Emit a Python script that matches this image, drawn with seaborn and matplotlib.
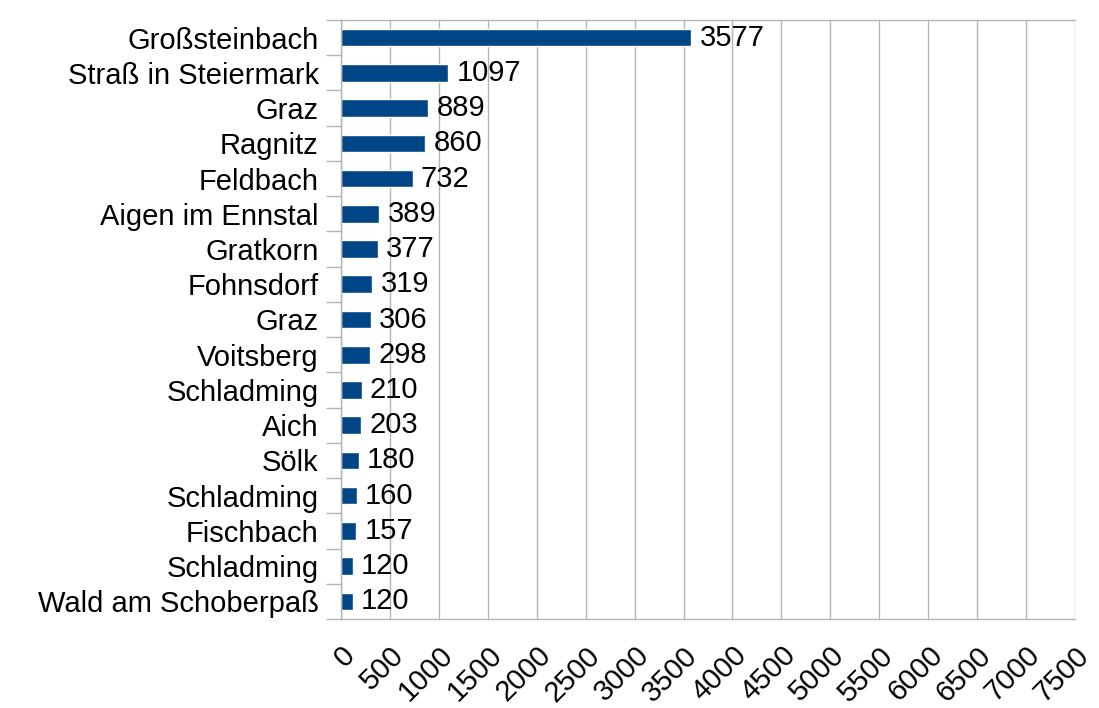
import matplotlib
matplotlib.use("Agg")
import matplotlib.pyplot as plt
import seaborn as sns
import pandas as pd
from matplotlib.ticker import FixedLocator

places = ["Großsteinbach", "Straß in Steiermark", "Graz", "Ragnitz", "Feldbach",
          "Aigen im Ennstal", "Gratkorn", "Fohnsdorf", "Graz", "Voitsberg",
          "Schladming", "Aich", "Sölk", "Schladming", "Fischbach", "Schladming",
          "Wald am Schoberpaß"]
values = [3577, 1097, 889, 860, 732, 389, 377, 319, 306, 298, 210, 203, 180, 160, 157, 120, 120]
xticks = list(range(0, 7501, 500))

sns.set_theme(style="white")
plt.rcParams['font.family'] = ['Liberation Sans', 'DejaVu Sans']

FS = 21

df = pd.DataFrame({"key": [str(i) for i in range(len(places))], "value": values})

fig = plt.figure(figsize=(10.99, 7.08), dpi=100)
ax = fig.add_axes([341/1099, 1 - 619/708, (1075-341)/1099, (619-20)/708])

sns.barplot(data=df, y="key", x="value", orient="h", color="#004586",
            width=0.5, saturation=1, ax=ax, order=df["key"].tolist())

ax.set_xlim(0, 7500)
ax.set_ylim(len(places) - 0.5, -0.5)
ax.set_xticks(xticks)
ax.set_xticklabels([str(t) for t in xticks], rotation=45, ha="right",
                   rotation_mode="anchor", fontsize=FS, color="black")
ax.set_yticks(range(len(places)))
ax.set_yticklabels(places, fontsize=FS, color="black")
ax.tick_params(axis="y", length=0, pad=16)
ax.tick_params(axis="x", length=11, color="#b3b3b3", width=1, pad=5, direction="out")
ax.yaxis.set_minor_locator(FixedLocator([i + 0.5 for i in range(-1, len(places))]))
ax.tick_params(axis="y", which="minor", length=11, color="#b3b3b3", width=1, left=True)
ax.xaxis.grid(True, color="#b3b3b3", linewidth=1)
ax.set_axisbelow(True)
for side in ["top", "bottom", "left", "right"]:
    ax.spines[side].set_color("#b3b3b3")
    ax.spines[side].set_linewidth(1)
ax.spines["right"].set_visible(False)
ax.set_xlabel("")
ax.set_ylabel("")

for c in ax.containers:
    ax.bar_label(c, labels=[str(v) for v in values], padding=6, fontsize=FS, color="black")

fig.savefig("out.png", dpi=100, facecolor="white")
